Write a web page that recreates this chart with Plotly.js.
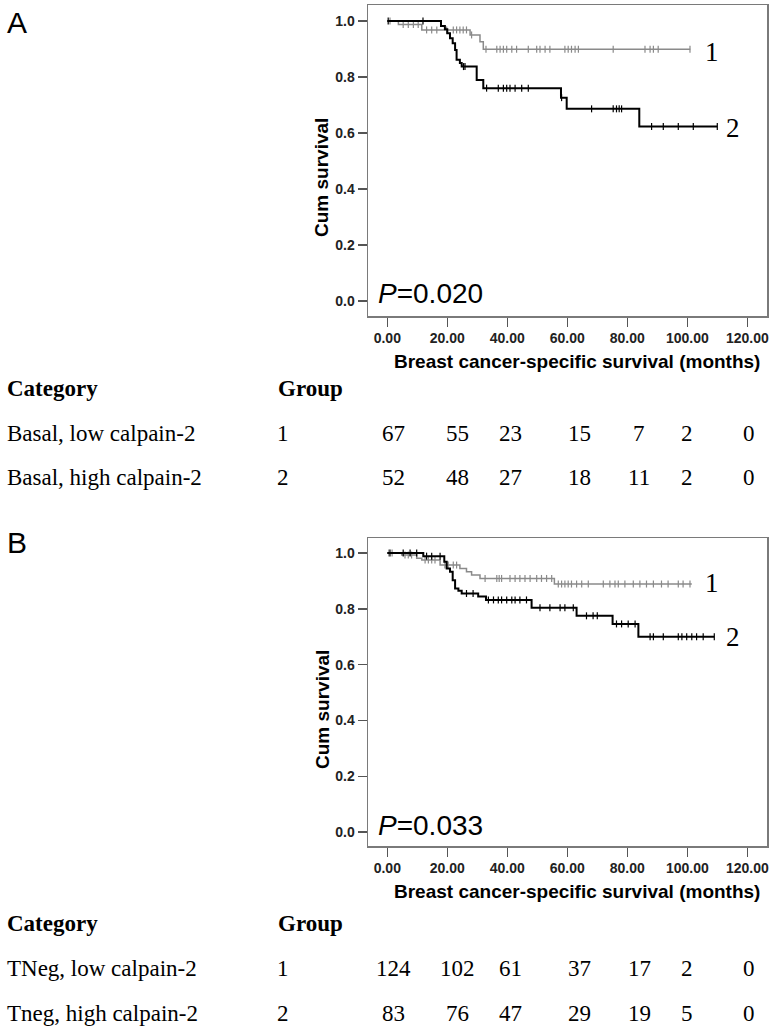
<!DOCTYPE html>
<html>
<head>
<meta charset="utf-8">
<script src="https://cdn.plot.ly/plotly-3.0.1.min.js"></script>
<style>html,body{margin:0;padding:0;background:#fff;}#chart{width:775px;height:1031px;}</style>
</head>
<body>
<div id="chart"></div>
<script>
// ---------- Panel A: Basal ----------
const aLowTimes  = [0, 3.7, 11.5, 27.6, 30.9, 32, 101];
const aLowSurv   = [1, 0.987, 0.968, 0.95, 0.926, 0.899, 0.899];
const aLowCens   = [0.9, 5.3, 7, 8.7, 10.3, 13.1, 14.8, 16.5, 19.8, 22, 23.1, 24.2, 25.3, 26.4, 28.1,
                    32.9, 36.5, 37.6, 38.7, 39.8, 41.5, 43.1, 47, 49.8, 50.9, 52.6, 54.2, 59.2, 60.3, 61.4,
                    62.6, 63.7, 75.3, 85.9, 87.6, 88.7, 90.3, 100.9];
const aHighTimes = [0, 17.9, 19.2, 20.0, 20.9, 21.8, 22.6, 23.1, 24.2, 24.8, 29.8, 32, 57.9, 59.8, 84, 110];
const aHighSurv  = [1, 0.982, 0.97, 0.956, 0.938, 0.92, 0.896, 0.861, 0.85, 0.837, 0.789, 0.76, 0.726, 0.686, 0.623, 0.623];
const aHighCens  = [0.3, 11.9, 25.4, 25.9, 33.1, 37, 38.7, 39.8, 40.9, 42.6, 44.8, 47, 58.1, 68.1, 75.3, 76.4,
                    77.3, 78.1, 88.1, 92, 97, 102, 110];

// ---------- Panel B: TNeg ----------
const bLowTimes  = [0, 4.8, 9.8, 11.5, 17.6, 24.2, 26.4, 28.1, 30.9, 55.7, 101.5];
const bLowSurv   = [1, 0.993, 0.981, 0.975, 0.957, 0.945, 0.933, 0.921, 0.909, 0.889, 0.889];
const bLowCens   = [0.5, 1.6, 5.9, 7, 8.1, 12.6, 13.7, 14.8, 15.9, 19.2, 20.3, 22, 23.1, 32.6, 36.5, 37.3, 38.1,
                    40.9, 42.6, 44.2, 45.9, 47.6, 49.8, 51.4, 53.1, 54.8, 57, 58.1, 59.2, 60.3, 61.4, 63.1,
                    64.8, 67, 72, 74.2, 75.9, 77, 79.2, 82, 84.2, 86.4, 88.7, 91.4, 93.6, 97, 98.6, 100.9];
const bHighTimes = [0, 12, 19, 19.8, 20.9, 21.8, 22.6, 23.7, 24.8, 30.3, 32.9, 48.1, 63.1, 75.1, 83.7, 109];
const bHighSurv  = [1, 0.989, 0.969, 0.945, 0.933, 0.903, 0.873, 0.865, 0.855, 0.844, 0.832, 0.804, 0.775, 0.746, 0.70, 0.70];
const bHighCens  = [0.9, 5.3, 7.6, 9.8, 13.1, 14.8, 17.6, 26.4, 28.6, 33.7, 35.4, 37, 38.1, 39.8, 41.5, 42.6,
                    44.2, 46.4, 50.9, 54.2, 57.6, 59.2, 62, 66.4, 68.6, 70, 76.4, 78.1, 80.3, 82.6, 87.6,
                    88.7, 92, 97, 98.2, 99.8, 101.5, 103.1, 105.3, 109];

// ---------- Tick labels & tables ----------
const xTicks = [0, 20, 40, 60, 80, 100, 120];
const yTicks = [0, 0.2, 0.4, 0.6, 0.8, 1.0];
const pValueA = "0.020";
const pValueB = "0.033";
const tableHeader = ["Category", "Group"];
const aCategories = ["Basal, low calpain-2", "Basal, high calpain-2"];
const bCategories = ["TNeg, low calpain-2", "Tneg, high calpain-2"];
const groups = ["1", "2"];
const aAtRiskLow  = [67, 55, 23, 15, 7, 2, 0];
const aAtRiskHigh = [52, 48, 27, 18, 11, 2, 0];
const bAtRiskLow  = [124, 102, 61, 37, 17, 2, 0];
const bAtRiskHigh = [83, 76, 47, 29, 19, 5, 0];

// ---------- drawing ----------
const W = 775, H = 1031;
const px = x => x / W;
const py = y => 1 - y / H;
const GRAY = '#8a8a8a', BLACK = '#000000';

function survAt(times, surv, t) {
  let s = surv[0];
  for (let i = 0; i < times.length; i++) { if (times[i] <= t) s = surv[i]; }
  return s;
}
function curve(times, surv, color, width, xa, ya) {
  return {x: times, y: surv, mode: 'lines', line: {shape: 'hv', color: color, width: width},
          xaxis: xa, yaxis: ya, hoverinfo: 'skip', showlegend: false};
}
function censors(cens, times, surv, color, xa, ya) {
  return {x: cens, y: cens.map(t => survAt(times, surv, t)), mode: 'markers',
          marker: {symbol: 'line-ns-open', size: 5, color: color, line: {color: color, width: 1.2}},
          xaxis: xa, yaxis: ya, hoverinfo: 'skip', showlegend: false};
}

const data = [
  curve(aLowTimes, aLowSurv, GRAY, 1.5, 'x', 'y'),
  censors(aLowCens, aLowTimes, aLowSurv, GRAY, 'x', 'y'),
  curve(aHighTimes, aHighSurv, BLACK, 2, 'x', 'y'),
  censors(aHighCens, aHighTimes, aHighSurv, BLACK, 'x', 'y'),
  curve(bLowTimes, bLowSurv, GRAY, 1.5, 'x2', 'y2'),
  censors(bLowCens, bLowTimes, bLowSurv, GRAY, 'x2', 'y2'),
  curve(bHighTimes, bHighSurv, BLACK, 2, 'x2', 'y2'),
  censors(bHighCens, bHighTimes, bHighSurv, BLACK, 'x2', 'y2')
];

const tickFont = {family: 'Liberation Sans, Arial, sans-serif', size: 14, color: '#222', weight: 'bold'};
function xAxis(anchor) {
  return {domain: [px(368), px(767)], range: [-6.43, 126.57], anchor: anchor,
          tickvals: xTicks, ticktext: xTicks.map(v => v.toFixed(2)),
          ticks: 'outside', ticklen: 9, tickwidth: 1.5, tickcolor: '#555',
          showline: true, linecolor: '#7a7a7a', linewidth: 1.5, mirror: true,
          showgrid: false, zeroline: false, tickfont: tickFont, fixedrange: true};
}
function yAxis(anchor, top, bottom, r0, r1) {
  return {domain: [py(bottom), py(top)], range: [r0, r1], anchor: anchor,
          tickvals: yTicks, ticktext: yTicks.map(v => v.toFixed(1)),
          ticks: 'outside', ticklen: 9, tickwidth: 1.5, tickcolor: '#555',
          showline: true, linecolor: '#7a7a7a', linewidth: 1.5, mirror: true,
          showgrid: false, zeroline: false, tickfont: tickFont, fixedrange: true};
}

const serif = 'Liberation Serif, Times New Roman, serif';
const sans = 'Liberation Sans, Arial, sans-serif';
const ann = [];
function txt(text, x, y, opts) {
  ann.push(Object.assign({text: text, x: px(x), y: py(y), xref: 'paper', yref: 'paper',
    showarrow: false, xanchor: 'center', yanchor: 'middle'}, opts || {}));
}
const colX = [393, 457, 510, 579, 639, 687, 749];

function panel(letter, letterY, titleY, xTitleY, pY, p, lab1Y, lab2Y, headY, rowYs, cats, risk1, risk2) {
  txt(letter, 17, letterY, {font: {family: sans, size: 30, color: '#000'}});
  txt('Cum survival', 322, titleY, {textangle: -90, font: {family: sans, size: 19, color: '#000', weight: 'bold'}});
  txt('Breast cancer-specific survival (months)', 577, xTitleY, {font: {family: sans, size: 19, color: '#000', weight: 'bold'}});
  txt('<i>P</i>=' + p, 376, pY, {xanchor: 'left', font: {family: sans, size: 28, color: '#000'}});
  txt('1', 712, lab1Y, {font: {family: serif, size: 27, color: '#000'}});
  txt('2', 733, lab2Y, {font: {family: serif, size: 27, color: '#000'}});
  txt('<b>' + tableHeader[0] + '</b>', 5, headY, {xanchor: 'left', font: {family: serif, size: 23, color: '#000'}});
  txt('<b>' + tableHeader[1] + '</b>', 276, headY, {xanchor: 'left', font: {family: serif, size: 23, color: '#000'}});
  [risk1, risk2].forEach((r, i) => {
    txt(cats[i], 5, rowYs[i], {xanchor: 'left', font: {family: serif, size: 23, color: '#000'}});
    txt(groups[i], 283, rowYs[i], {font: {family: serif, size: 23, color: '#000'}});
    r.forEach((v, j) => txt(String(v), colX[j], rowYs[i], {font: {family: serif, size: 23, color: '#000'}}));
  });
}
panel('A', 22, 178, 361, 294, pValueA, 52, 128, 388, [433, 477], aCategories, aAtRiskLow, aAtRiskHigh);
panel('B', 542, 710, 891, 825, pValueB, 583, 637, 923, [968, 1013], bCategories, bAtRiskLow, bAtRiskHigh);

const layout = {
  width: W, height: H, margin: {l: 0, r: 0, t: 0, b: 0},
  paper_bgcolor: '#fff', plot_bgcolor: '#fff', showlegend: false,
  xaxis: xAxis('y'), yaxis: yAxis('x', 5, 316, -0.054, 1.057),
  xaxis2: xAxis('y2'), yaxis2: yAxis('x2', 538, 846, -0.050, 1.054),
  annotations: ann
};
Plotly.newPlot('chart', data, layout, {displayModeBar: false, staticPlot: true});
</script>
</body>
</html>
